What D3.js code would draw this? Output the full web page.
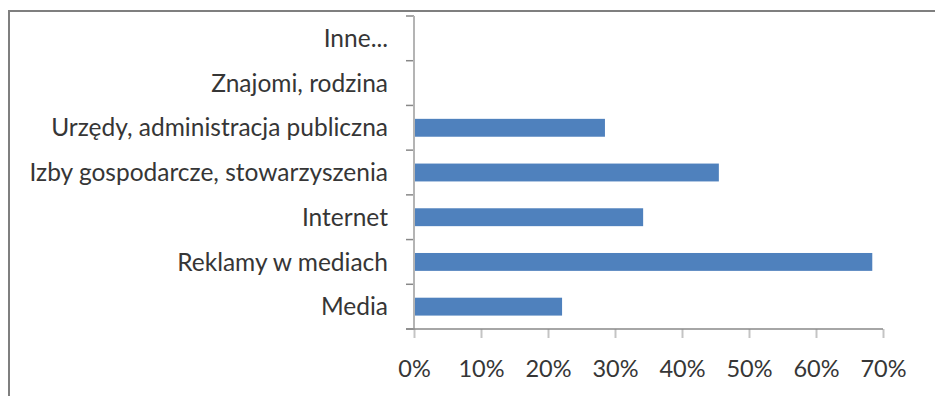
<!DOCTYPE html>
<html>
<head>
<meta charset="utf-8">
<script src="https://cdn.jsdelivr.net/npm/d3@7/dist/d3.min.js"></script>
<style>
  html, body { margin: 0; padding: 0; background: #fff; }
  svg { display: block; }
  text { font-family: Lato, "Open Sans", sans-serif; fill: #363636; }
</style>
</head>
<body>
<svg id="chart" width="935" height="396"></svg>
<script>
// Source of information (share of respondents), bottom to top
const categories = [
  "Media",
  "Reklamy w mediach",
  "Internet",
  "Izby gospodarcze, stowarzyszenia",
  "Urzędy, administracja publiczna",
  "Znajomi, rodzina",
  "Inne..."
];
const shares = [0.221, 0.684, 0.342, 0.455, 0.285, 0, 0];
const tickValues = [0, 0.1, 0.2, 0.3, 0.4, 0.5, 0.6, 0.7];

const svg = d3.select("#chart");
const plot = { left: 414, right: 883, top: 16, bottom: 329 };

// Outer chart frame (only top and left edges fall inside the view)
svg.append("rect")
  .attr("x", 9).attr("y", 11)
  .attr("width", 1000).attr("height", 500)
  .attr("fill", "none")
  .attr("stroke", "#7f7f7f")
  .attr("stroke-width", 2);

const x = d3.scaleLinear().domain([0, 0.7]).range([plot.left, plot.right]);
const y = d3.scaleBand()
  .domain(categories)
  .range([plot.bottom, plot.top])
  .paddingInner(0.6)
  .paddingOuter(0.3);

// Bars
svg.append("g").selectAll("rect")
  .data(categories.map((c, i) => ({ c, v: shares[i] })))
  .join("rect")
  .attr("x", x(0))
  .attr("y", d => y(d.c))
  .attr("width", d => x(d.v) - x(0))
  .attr("height", y.bandwidth())
  .attr("fill", "#4f81bd");

// Category axis
const yAxis = svg.append("g")
  .attr("transform", `translate(${plot.left},0)`);
const bounds = d3.range(categories.length + 1).map(i => plot.bottom - i * (plot.bottom - plot.top) / categories.length);
yAxis.selectAll("line.tick")
  .data(bounds)
  .join("line")
  .attr("class", "tick")
  .attr("x1", -8).attr("x2", 0)
  .attr("y1", d => d).attr("y2", d => d)
  .attr("stroke", "#888")
  .attr("stroke-width", 1.5);
yAxis.append("line")
  .attr("x1", 0).attr("x2", 0)
  .attr("y1", plot.top).attr("y2", plot.bottom)
  .attr("stroke", "#b4b4b4")
  .attr("stroke-width", 2);
yAxis.selectAll("text")
  .data(categories)
  .join("text")
  .attr("x", -26)
  .attr("y", d => y(d) + y.bandwidth() / 2)
  .attr("dy", "0.35em")
  .attr("text-anchor", "end")
  .attr("font-size", 24.5)
  .text(d => d);

// Value axis
const xAxis = d3.axisBottom(x)
  .tickValues(tickValues)
  .tickFormat(d3.format(".0%"))
  .tickSize(9)
  .tickSizeOuter(0);
const gx = svg.append("g")
  .attr("transform", `translate(0,${plot.bottom})`)
  .call(xAxis);
gx.select(".domain").remove();
gx.append("line")
  .attr("x1", plot.left - 8).attr("x2", plot.right)
  .attr("y1", 0).attr("y2", 0)
  .attr("stroke", "#888")
  .attr("stroke-width", 1.5);
gx.selectAll(".tick line")
  .attr("stroke", "#c4c4c4")
  .attr("stroke-width", 2);
gx.selectAll(".tick text")
  .attr("y", 40)
  .attr("dy", "0.35em")
  .attr("font-size", 23.5)
  .attr("fill", "#363636")
  .attr("font-family", "Lato, 'Open Sans', sans-serif");
</script>
</body>
</html>
